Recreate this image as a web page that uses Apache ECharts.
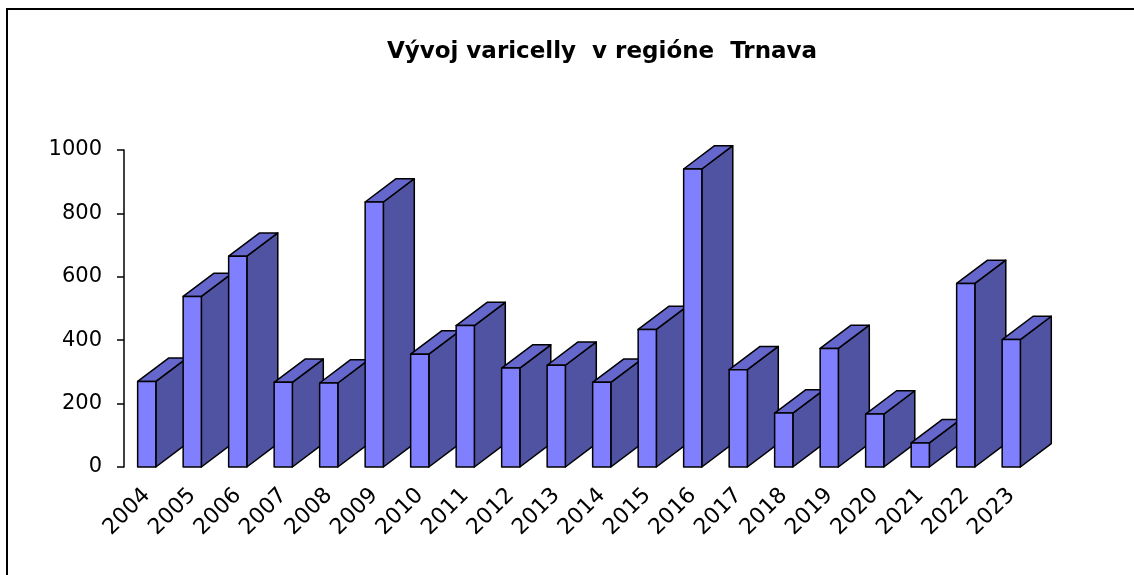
<!DOCTYPE html>
<html>
<head>
<meta charset="utf-8">
<script src="https://cdn.jsdelivr.net/npm/echarts@6/dist/echarts.min.js"></script>
<style>
  html, body { margin: 0; padding: 0; background: #fff; }
  #chart { width: 1134px; height: 575px; }
</style>
</head>
<body>
<div id="chart"></div>
<script>
// roky a hodnoty (odčítané z grafu)
const years = ['2004', '2005', '2006', '2007', '2008', '2009', '2010', '2011', '2012', '2013',
  '2014', '2015', '2016', '2017', '2018', '2019', '2020', '2021', '2022', '2023'];
const cases = [270, 538, 665, 267, 265, 836, 356, 446, 312, 321,
  267, 434, 940, 307, 170, 374, 167, 76, 579, 402];
const yTicks = [0, 200, 400, 600, 800, 1000];

const frontColor = '#8080ff';
const sideColor = '#5052a2';
const topColor = '#6567cc';
const font = 'DejaVu Sans, Verdana, sans-serif';

// 3D stĺpec: predná stena, bočná stena a vrch
function renderBar(params, api) {
  let idx = api.value(0);
  let top = api.coord([idx, api.value(1)]);
  let base = api.coord([idx, 0]);
  let band = api.size([1, 0])[0];
  let w = band * 0.4;
  let dx = band * 0.68;
  let dy = band * 0.512;
  let x0 = top[0] - w / 2;
  let x1 = top[0] + w / 2;
  let yt = top[1];
  let yb = base[1];
  let line = { stroke: '#000', lineWidth: 1.5, lineJoin: 'round' };
  return {
    type: 'group',
    children: [
      {
        type: 'polygon',
        shape: { points: [[x1, yb], [x1 + dx, yb - dy], [x1 + dx, yt - dy], [x1, yt]] },
        style: Object.assign({ fill: sideColor }, line)
      },
      {
        type: 'polygon',
        shape: { points: [[x0, yt], [x0 + dx, yt - dy], [x1 + dx, yt - dy], [x1, yt]] },
        style: Object.assign({ fill: topColor }, line)
      },
      {
        type: 'rect',
        shape: { x: x0, y: yt, width: w, height: yb - yt },
        style: Object.assign({ fill: frontColor }, line)
      }
    ]
  };
}

let chart = echarts.init(document.getElementById('chart'));
let option = {
  backgroundColor: '#fff',
  animation: false,
  title: {
    text: 'Vývoj varicelly  v regióne  Trnava',
    left: 597,
    top: 36,
    textAlign: 'center',
    textStyle: {
      fontFamily: font,
      fontWeight: 'bold',
      fontSize: 23,
      color: '#000'
    }
  },
  graphic: [
    {
      type: 'polyline',
      shape: { points: [[7, 575], [7, 9], [1134, 9]] },
      style: { stroke: '#000', lineWidth: 2, fill: null }
    }
  ],
  grid: {
    left: 124,
    right: 100,
    top: 150,
    bottom: 108
  },
  xAxis: {
    type: 'category',
    data: years,
    axisLine: { show: false },
    axisTick: { show: false },
    axisLabel: {
      rotate: 45,
      margin: 25,
      interval: 0,
      fontFamily: font,
      fontSize: 22,
      color: '#000'
    }
  },
  yAxis: {
    type: 'value',
    min: yTicks[0],
    max: yTicks[yTicks.length - 1],
    interval: 200,
    splitLine: { show: false },
    axisLine: { show: true, lineStyle: { color: '#000', width: 1.5 } },
    axisTick: { show: true, length: 7, lineStyle: { color: '#000', width: 1.5 } },
    axisLabel: {
      margin: 22,
      formatter: v => String(v),
      fontFamily: font,
      fontSize: 21,
      color: '#000'
    }
  },
  series: [
    {
      type: 'custom',
      renderItem: renderBar,
      data: cases.map((v, i) => [i, v])
    }
  ]
};
chart.setOption(option);
window.onresize = function () {
  chart.resize();
};
</script>
</body>
</html>
